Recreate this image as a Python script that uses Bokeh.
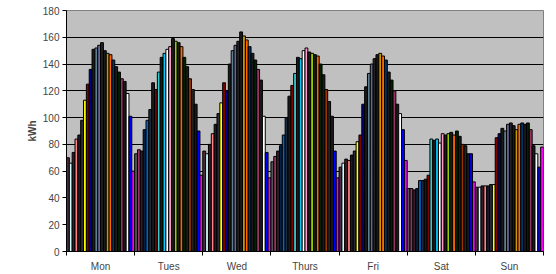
from bokeh.plotting import figure
from bokeh.models import Range1d, FixedTicker, ColumnDataSource
from bokeh.embed import file_html
from bokeh.resources import INLINE

days = ["Mon", "Tues", "Wed", "Thurs", "Fri", "Sat", "Sun"]

mon = [70, 66, 74, 84, 87, 98, 113, 125, 136, 151, 152, 154, 156, 150, 148, 147, 143, 138, 134, 129, 127, 118, 101, 60]
tue = [73, 76, 75, 91, 98, 106, 126, 121, 134, 145, 148, 151, 153, 159, 157, 156, 153, 145, 138, 129, 121, 110, 90, 57]
wed = [75, 73, 80, 88, 95, 103, 111, 126, 120, 140, 150, 154, 157, 164, 161, 158, 153, 148, 143, 136, 128, 101, 74, 55]
thu = [67, 71, 75, 79, 87, 100, 116, 124, 133, 145, 144, 150, 152, 149, 148, 147, 146, 140, 132, 121, 112, 101, 75, 55]
fri = [63, 66, 69, 68, 72, 75, 82, 87, 110, 123, 133, 140, 144, 147, 148, 146, 143, 134, 128, 120, 110, 103, 91, 68]
sat = [47, 47, 46, 47, 53, 53, 54, 57, 84, 83, 84, 81, 88, 87, 88, 89, 87, 90, 86, 80, 79, 73, 73, 52]
sun = [48, 48, 49, 49, 49, 50, 50, 85, 88, 92, 90, 95, 96, 94, 91, 95, 96, 95, 96, 91, 79, 73, 63, 78]

colors_a = ["#4d2b3a", "#ccffff", "#3a1a2a", "#ff8080", "#1a1a2a", "#2a2a3a",
            "#ffff00", "#800000", "#000080", "#1a1a1a", "#5f7f8f", "#666699",
            "#222222", "#1a1a1a", "#cc9900", "#ff6600", "#003366", "#1a1a1a",
            "#002200", "#993366", "#1a1a1a", "#ffffff", "#0000ff", "#ff00ff"]
colors_b = ["#555555", "#993366", "#3a1a2a", "#002244", "#0066cc", "#1a2a3a",
            "#1a1a1a", "#800000", "#33cccc", "#1a1a1a", "#00ccff", "#ffffff",
            "#ff99cc", "#1a1a1a", "#99cc00", "#1a1a1a", "#ff6600", "#002200",
            "#1a1a1a", "#993300", "#222222", "#1a1a1a", "#0000ff", "#ff00ff"]

y_ticks = [0, 20, 40, 60, 80, 100, 120, 140, 160, 180]

series = [mon, tue, wed, thu, fri, sat, sun]
tops = []
cols = []
for d, s in enumerate(series):
    tops += s
    cols += colors_a if d % 2 == 0 else colors_b
xs = [i + 0.5 for i in range(len(tops))]
n = len(days) * 24

src = ColumnDataSource(data=dict(x=xs, top=tops, color=cols))

p = figure(width=556, height=274, x_range=Range1d(0, n), y_range=Range1d(0, 180),
           output_backend="svg", toolbar_location=None,
           min_border_left=66, min_border_right=13, min_border_top=10, min_border_bottom=0)

p.background_fill_color = "#c0c0c0"
p.border_fill_color = "white"
p.outline_line_color = "#808080"

p.vbar(x="x", top="top", width=1.0, fill_color="color", line_color="black",
       line_width=1, source=src)

p.xgrid.visible = False
p.ygrid.grid_line_color = "black"
p.ygrid.grid_line_width = 1

font = "Liberation Sans"
p.yaxis.ticker = FixedTicker(ticks=y_ticks)
p.yaxis.axis_label = "kWh"
p.yaxis.axis_label_text_font = font
p.yaxis.axis_label_text_font_style = "bold"
p.yaxis.axis_label_text_font_size = "10px"
p.yaxis.axis_label_standoff = 2
p.yaxis.major_label_text_font = font
p.yaxis.major_label_text_font_size = "10px"
p.yaxis.major_tick_out = 4
p.yaxis.major_tick_in = 0
p.yaxis.minor_tick_out = 0
p.yaxis.minor_tick_in = 0
p.yaxis.major_label_standoff = 3
p.yaxis.axis_line_color = "black"

centers = [d * 24 + 12 for d in range(len(days))]
bounds = [d * 24 for d in range(len(days) + 1)]
p.xaxis.ticker = FixedTicker(ticks=centers, minor_ticks=bounds)
p.xaxis.major_label_overrides = {c: lab for c, lab in zip(centers, days)}
p.xaxis.major_label_text_font = font
p.xaxis.major_label_text_font_size = "10px"
p.xaxis.major_tick_out = 0
p.xaxis.major_tick_in = 0
p.xaxis.minor_tick_out = 4
p.xaxis.minor_tick_in = 0
p.xaxis.major_label_standoff = 5
p.xaxis.axis_line_color = "black"

open("out.html", "w").write(file_html(p, INLINE))
